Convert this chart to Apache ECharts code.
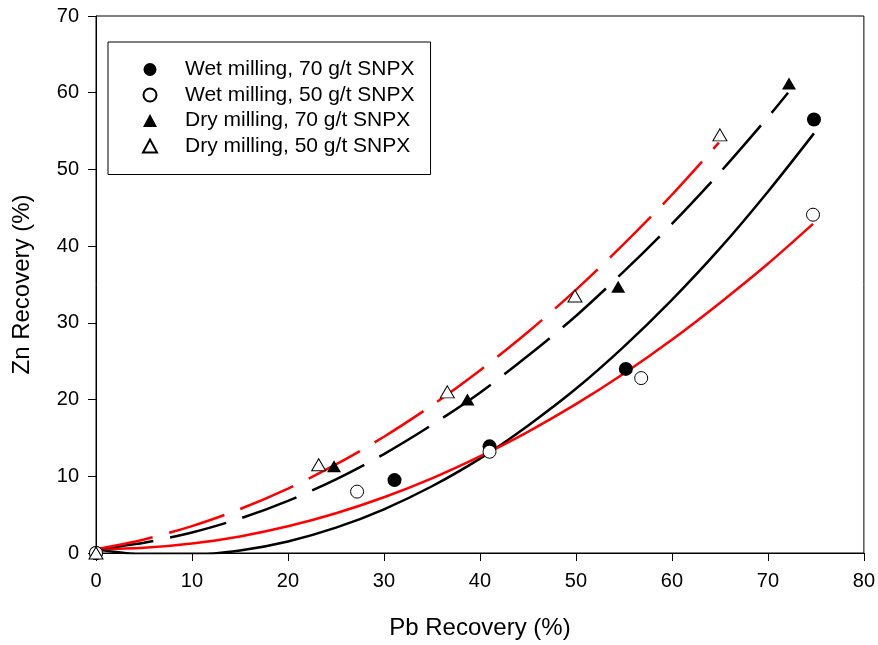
<!DOCTYPE html>
<html>
<head>
<meta charset="utf-8">
<script src="https://cdn.jsdelivr.net/npm/echarts@6/dist/echarts.min.js"></script>
<style>html,body{margin:0;padding:0;background:#fff}#c{width:878px;height:645px}</style>
</head>
<body>
<div id="c"></div>
<script>
// Measured points (Pb recovery %, Zn recovery %)
const wet70 = [[0,0],[31.1,9.5],[41,13.9],[55.2,24],[74.8,56.5]];
const wet50 = [[0,0],[27.2,8],[41,13.2],[56.8,22.8],[74.7,44.1]];
const dry70 = [[0,0],[24.8,11.3],[38.7,20],[54.4,34.7],[72.2,61.2]];
const dry50 = [[0,0],[23.2,11.5],[36.6,21],[49.9,33.5],[65,54.5]];

// Fitted curves
const fitWet70 = [[0,0.5],[5,-0.2],[10,-0.24],[15,0.32],[20,1.5],[25,3.3],[30,5.7],[35,8.7],[40,12.3],[45,16.6],[50,21.4],[55,26.9],[60,33.0],[65,39.7],[70,47.1],[74.8,54.7]];
const fitWet50 = [[0,0.5],[5,0.67],[10,1.23],[15,2.16],[20,3.48],[25,5.18],[30,7.27],[35,9.74],[40,12.6],[45,15.8],[50,19.4],[55,23.4],[60,27.8],[65,32.6],[70,37.7],[74.7,42.9]];
const fitDry70 = [[0,0.5],[5,1.34],[10,2.67],[15,4.49],[20,6.8],[25,9.6],[30,12.9],[35,16.7],[40,20.9],[45,25.7],[50,30.9],[55,36.7],[60,42.9],[65,49.6],[70,56.8],[72.1,60.0]];
const fitDry50 = [[0,0.5],[5,1.77],[10,3.51],[15,5.72],[20,8.4],[25,11.54],[30,15.16],[35,19.25],[40,23.8],[45,28.8],[50,34.3],[55,40.3],[60,46.7],[64.9,53.5]];

const names = ['Wet milling, 70 g/t SNPX','Wet milling, 50 g/t SNPX','Dry milling, 70 g/t SNPX','Dry milling, 50 g/t SNPX'];
const FONT = "'Liberation Sans', Arial, sans-serif";

const chart = echarts.init(document.getElementById('c'), null, {renderer:'canvas'});

function fitLine(data, color, dashed){
  return {
    type:'line', data:data, smooth:0.3, symbol:'none', silent:true, z:2,
    lineStyle:{color:color, width:2.5, type: dashed ? [58,17] : 'solid', cap:'butt'}
  };
}
function pts(name, data, symbol, size, filled){
  return {
    type:'scatter', name:name, data:data, symbol:symbol, symbolSize:size, clip:false, z:5,
    itemStyle:{color: filled ? '#000' : '#fff', borderColor:'#000', borderWidth: filled ? 0 : 1, opacity:1}
  };
}

chart.setOption({
  animation:false,
  backgroundColor:'#fff',
  grid:{left:96, right:14, top:16, bottom:91, show:true, borderColor:'#000', borderWidth:1, backgroundColor:'transparent'},
  legend:{
    data:names, orient:'vertical', left:108, top:42,
    borderColor:'#000', borderWidth:1, borderRadius:0,
    padding:[17,16,18,34], itemWidth:14, itemHeight:13, itemGap:4.5,
    selectedMode:false,
    textStyle:{fontFamily:FONT, fontSize:21, color:'#000', lineHeight:21, padding:[0,0,0,23]}
  },
  xAxis:{
    type:'value', min:0, max:80, interval:10,
    name:'Pb Recovery (%)', nameLocation:'middle', nameGap:63,
    nameTextStyle:{fontFamily:FONT, fontSize:24, color:'#000'},
    axisLine:{show:true, onZero:false, lineStyle:{color:'#000', width:1}},
    axisTick:{show:true, inside:false, length:8, lineStyle:{color:'#000'}},
    axisLabel:{fontFamily:FONT, fontSize:20, color:'#000', margin:18},
    splitLine:{show:false}
  },
  yAxis:{
    type:'value', min:0, max:70, interval:10,
    name:'Zn Recovery (%)', nameLocation:'middle', nameGap:62,
    nameTextStyle:{fontFamily:FONT, fontSize:24, color:'#000'},
    axisLine:{show:true, onZero:false, lineStyle:{color:'#000', width:1}},
    axisTick:{show:true, inside:false, length:8, lineStyle:{color:'#000'}},
    axisLabel:{fontFamily:FONT, fontSize:20, color:'#000', margin:17},
    splitLine:{show:false}
  },
  series:[
    fitLine(fitWet70,'#000',false),
    fitLine(fitWet50,'#ff0000',false),
    fitLine(fitDry70,'#000',true),
    fitLine(fitDry50,'#ff0000',true),
    pts(names[0], wet70, 'circle', 14, true),
    pts(names[1], wet50, 'circle', 13, false),
    pts(names[2], dry70, 'triangle', [14,12], true),
    pts(names[3], dry50, 'triangle', [14,12], false)
  ]
});
</script>
</body>
</html>
